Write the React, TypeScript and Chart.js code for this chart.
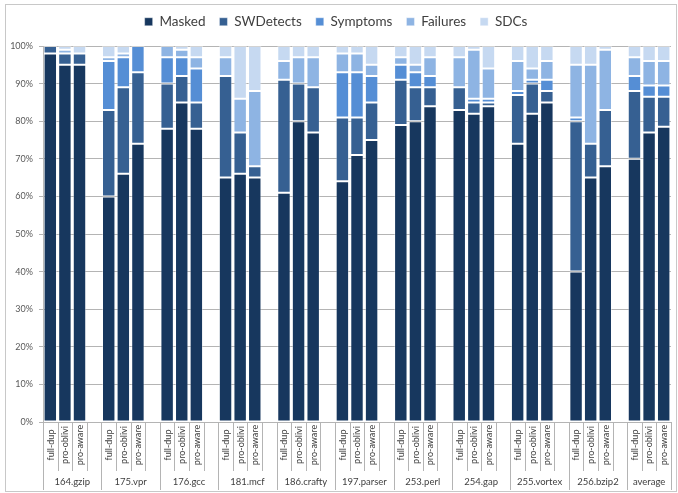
import React, { useEffect, useRef } from 'react';
import { Chart, registerables } from 'chart.js';

Chart.register(...registerables);

// ---- data ----
const groups = ['164.gzip', '175.vpr', '176.gcc', '181.mcf', '186.crafty', '197.parser', '253.perl', '254.gap', '255.vortex', '256.bzip2', 'average'];
const variants = ['full-dup', 'pro-oblivi', 'pro-aware'];
const seriesNames = ['Masked', 'SWDetects', 'Symptoms', 'Failures', 'SDCs'];
const seriesColors = ['#17375E', '#366092', '#558ED5', '#8EB4E3', '#C6D9F1'];

// order per group: full-dup, pro-oblivi, pro-aware
const masked = [98, 95, 95, 60, 66, 74, 78, 85, 78, 65, 66, 65, 61, 80, 77, 64, 71, 75, 79, 80, 84, 83, 82, 84, 74, 82, 85, 40, 65, 68, 70, 77, 78.5];
const swDetects = [2, 3, 3, 23, 23, 19, 12, 7, 7, 27, 11, 3, 30, 10, 12, 17, 10, 10, 12, 9, 5, 6, 3, 1, 13, 8, 3, 40, 9, 15, 18, 9.5, 8];
const symptoms = [0, 0, 0, 13, 8, 7, 7, 5, 9, 0, 0, 0, 0, 0, 0, 12, 12, 7, 4, 4, 3, 0, 1, 1, 1, 1, 3, 1, 0, 0, 4, 3, 3];
const failures = [0, 1, 0, 1, 1, 0, 3, 2, 3, 5, 9, 20, 5, 7, 8, 5, 5, 3, 2, 2, 5, 8, 13, 8, 8, 3, 5, 14, 21, 16, 5, 6.5, 6.5];
const sdcs = [0, 1, 2, 3, 2, 0, 0, 1, 3, 3, 14, 12, 4, 3, 3, 2, 2, 5, 3, 5, 3, 3, 1, 6, 4, 6, 4, 5, 5, 1, 3, 4, 4];

const yTickValues = [0, 10, 20, 30, 40, 50, 60, 70, 80, 90, 100];

// ---- build category slots (3 bars per group + 1 empty gap slot between groups) ----
const labels: string[] = [];
const slotIndex: number[] = []; // index into series arrays, or -1 for gap
const groupStarts: number[] = [];
groups.forEach((g, gi) => {
  groupStarts.push(labels.length);
  variants.forEach((v, vi) => {
    labels.push(v);
    slotIndex.push(gi * variants.length + vi);
  });
  if (gi < groups.length - 1) {
    labels.push('');
    slotIndex.push(-1);
  }
});
groupStarts.push(labels.length);

const expand = (arr: number[]) => slotIndex.map((i) => (i < 0 ? null : arr[i]));
const seriesData = [masked, swDetects, symptoms, failures, sdcs];

const FONT = 'Lato, "Noto Sans", "DejaVu Sans", sans-serif';

const multiLevelPlugin = {
  id: 'multiLevelAxis',
  beforeDraw(chart: any) {
    const ctx = chart.ctx;
    ctx.save();
    ctx.fillStyle = '#ffffff';
    ctx.fillRect(0, 0, chart.width, chart.height);
    ctx.strokeStyle = '#c8c8c8';
    ctx.lineWidth = 1;
    ctx.strokeRect(5.5, 4.5, 671, 487);
    ctx.restore();
  },
  afterDraw(chart: any) {
    const ctx = chart.ctx;
    const xs = chart.scales.x;
    const area = chart.chartArea;
    const n = labels.length;
    const slot = (area.right - area.left) / n;
    ctx.save();
    ctx.strokeStyle = '#b4b4b4';
    ctx.lineWidth = 1;
    ctx.beginPath();
    for (let i = 0; i <= n; i++) {
      const bx = Math.round(xs.getPixelForValue(Math.min(i, n - 1)) + (i === n ? slot / 2 : -slot / 2)) + 0.5;
      const isGroup = groupStarts.includes(i);
      ctx.moveTo(bx, area.bottom);
      ctx.lineTo(bx, isGroup ? 490 : 471);
    }
    ctx.stroke();

    // rotated bar labels
    ctx.fillStyle = '#404040';
    ctx.font = `9px ${FONT}`;
    ctx.textAlign = 'center';
    ctx.textBaseline = 'middle';
    labels.forEach((lab, i) => {
      if (!lab) return;
      const px = xs.getPixelForValue(i);
      ctx.save();
      ctx.translate(px + 0.5, 445);
      ctx.rotate(-Math.PI / 2);
      ctx.fillText(lab, 0, 0);
      ctx.restore();
    });

    // group labels
    ctx.font = `9.5px ${FONT}`;
    groups.forEach((g, gi) => {
      const s = groupStarts[gi];
      const e = groupStarts[gi + 1];
      const left = xs.getPixelForValue(s) - slot / 2;
      const right = xs.getPixelForValue(e - 1) + slot / 2;
      ctx.fillText(g, (left + right) / 2, 482);
    });
    ctx.restore();
  },
};

export default function App() {
  const canvasRef = useRef<HTMLCanvasElement | null>(null);

  useEffect(() => {
    if (!canvasRef.current) return;
    const chart = new Chart(canvasRef.current, {
      type: 'bar',
      data: {
        labels,
        datasets: seriesNames.map((name, si) => ({
          label: name,
          data: expand(seriesData[si]),
          backgroundColor: seriesColors[si],
          borderColor: 'rgba(255,255,255,0.4)',
          borderWidth: 1,
          borderSkipped: false,
          barPercentage: 0.92,
          categoryPercentage: 1,
        })),
      },
      options: {
        responsive: false,
        animation: false,
        layout: { padding: { top: 1, left: 1, right: 7, bottom: 0 } },
        plugins: {
          legend: {
            display: true,
            position: 'top',
            labels: {
              boxWidth: 8,
              boxHeight: 8,
              padding: 14,
              color: '#404040',
              font: { family: FONT, size: 13.5 },
            },
          },
          tooltip: { enabled: false },
        },
        scales: {
          x: {
            type: 'category',
            stacked: true,
            offset: true,
            grid: { display: false, drawTicks: false },
            border: { display: true, color: '#b4b4b4' },
            ticks: { display: false },
            afterFit: (s: any) => {
              s.height = 71;
            },
          },
          x2: {
            type: 'category',
            position: 'top',
            display: true,
            grid: { display: false, drawTicks: false },
            border: { display: false },
            ticks: { display: false },
            afterFit: (s: any) => {
              s.height = 7.5;
            },
          },
          y: {
            stacked: true,
            min: 0,
            max: 100,
            afterBuildTicks: (s: any) => {
              s.ticks = yTickValues.map((v) => ({ value: v }));
            },
            grid: { color: '#b4b4b4', tickLength: 4, drawTicks: true },
            border: { display: true, color: '#b4b4b4' },
            ticks: {
              padding: 6,
              color: '#595959',
              font: { family: FONT, size: 9 },
              callback: (v: any) => `${v}%`,
            },
            afterFit: (s: any) => {
              s.width = 42;
            },
          },
        },
      } as any,
      plugins: [multiLevelPlugin],
    });
    return () => chart.destroy();
  }, []);

  return (
    <div style={{ position: 'fixed', left: 0, top: 0, width: 678, height: 493, background: '#fff' }}>
      <canvas ref={canvasRef} width={678} height={493} style={{ display: 'block' }} />
    </div>
  );
}
